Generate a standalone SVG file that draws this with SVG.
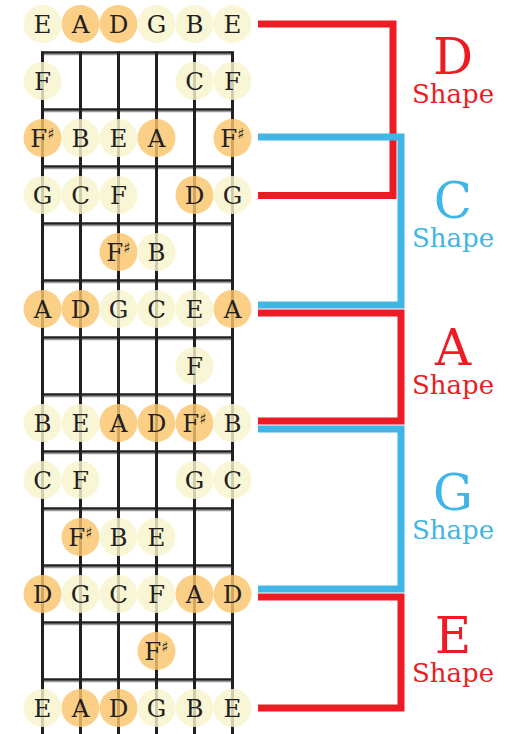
<svg xmlns="http://www.w3.org/2000/svg" width="509" height="734" viewBox="0 0 509 734">
  <style>
    .string { stroke: #231f20; stroke-width: 3; }
    .fret { stroke: #231f20; stroke-width: 2.6; }
    .fret-shade { stroke: #9a9a9a; stroke-width: 1.2; }
    .n circle { r: 19px; opacity: 0.82; }
    .lt circle { fill: #f8f4cc; }
    .or circle { fill: #fbc46c; }
    .n text { font-family: "DejaVu Serif", "Liberation Serif", serif; font-size: 24.5px; fill: #231f20; text-anchor: middle; }
    .n tspan { font-size: 15px; }
    .red { stroke: #ed1c24; stroke-width: 7; fill: none; }
    .blue { stroke: #40b5e6; stroke-width: 7; fill: none; }
    .big { font-family: "DejaVu Serif", "Liberation Serif", serif; font-size: 50px; text-anchor: middle; }
    .sub { font-family: "DejaVu Serif", "Liberation Serif", serif; font-size: 26px; text-anchor: middle; }
    .r { fill: #ed1c24; }
    .b { fill: #40b5e6; }
  </style>
  <rect width="509" height="734" fill="#ffffff"/>

  <!-- fretboard: strings and frets -->
  <g id="fretboard">
    <g id="frets">
      <line class="fret-shade" x1="42.5" x2="232.5" y1="54.6" y2="54.6"/>
      <line class="fret-shade" x1="42.5" x2="232.5" y1="111.6" y2="111.6"/>
      <line class="fret-shade" x1="42.5" x2="232.5" y1="168.6" y2="168.6"/>
      <line class="fret-shade" x1="42.5" x2="232.5" y1="225.6" y2="225.6"/>
      <line class="fret-shade" x1="42.5" x2="232.5" y1="282.6" y2="282.6"/>
      <line class="fret-shade" x1="42.5" x2="232.5" y1="339.6" y2="339.6"/>
      <line class="fret-shade" x1="42.5" x2="232.5" y1="396.6" y2="396.6"/>
      <line class="fret-shade" x1="42.5" x2="232.5" y1="453.6" y2="453.6"/>
      <line class="fret-shade" x1="42.5" x2="232.5" y1="510.6" y2="510.6"/>
      <line class="fret-shade" x1="42.5" x2="232.5" y1="567.6" y2="567.6"/>
      <line class="fret-shade" x1="42.5" x2="232.5" y1="624.6" y2="624.6"/>
      <line class="fret-shade" x1="42.5" x2="232.5" y1="681.6" y2="681.6"/>
      <line class="fret" x1="42.5" x2="232.5" y1="52.5" y2="52.5"/>
      <line class="fret" x1="42.5" x2="232.5" y1="109.5" y2="109.5"/>
      <line class="fret" x1="42.5" x2="232.5" y1="166.5" y2="166.5"/>
      <line class="fret" x1="42.5" x2="232.5" y1="223.5" y2="223.5"/>
      <line class="fret" x1="42.5" x2="232.5" y1="280.5" y2="280.5"/>
      <line class="fret" x1="42.5" x2="232.5" y1="337.5" y2="337.5"/>
      <line class="fret" x1="42.5" x2="232.5" y1="394.5" y2="394.5"/>
      <line class="fret" x1="42.5" x2="232.5" y1="451.5" y2="451.5"/>
      <line class="fret" x1="42.5" x2="232.5" y1="508.5" y2="508.5"/>
      <line class="fret" x1="42.5" x2="232.5" y1="565.5" y2="565.5"/>
      <line class="fret" x1="42.5" x2="232.5" y1="622.5" y2="622.5"/>
      <line class="fret" x1="42.5" x2="232.5" y1="679.5" y2="679.5"/>
    </g>
    <g id="strings">
      <line class="string" x1="42.5" x2="42.5" y1="51.2" y2="734"/>
      <line class="string" x1="80.5" x2="80.5" y1="51.2" y2="734"/>
      <line class="string" x1="118.5" x2="118.5" y1="51.2" y2="734"/>
      <line class="string" x1="156.5" x2="156.5" y1="51.2" y2="734"/>
      <line class="string" x1="194.5" x2="194.5" y1="51.2" y2="734"/>
      <line class="string" x1="232.5" x2="232.5" y1="51.2" y2="734"/>
    </g>
  </g>

  <!-- open strings -->
  <g id="row0">
    <g class="n lt"><circle cx="42.5" cy="24"/><text x="42.5" y="33">E</text></g>
    <g class="n or"><circle cx="80.5" cy="24"/><text x="80.5" y="33">A</text></g>
    <g class="n or"><circle cx="118.5" cy="24"/><text x="118.5" y="33">D</text></g>
    <g class="n lt"><circle cx="156.5" cy="24"/><text x="156.5" y="33">G</text></g>
    <g class="n lt"><circle cx="194.5" cy="24"/><text x="194.5" y="33">B</text></g>
    <g class="n lt"><circle cx="232.5" cy="24"/><text x="232.5" y="33">E</text></g>
  </g>
  <g id="row1">
    <g class="n lt"><circle cx="42.5" cy="81"/><text x="42.5" y="90">F</text></g>
    <g class="n lt"><circle cx="194.5" cy="81"/><text x="194.5" y="90">C</text></g>
    <g class="n lt"><circle cx="232.5" cy="81"/><text x="232.5" y="90">F</text></g>
  </g>
  <g id="row2">
    <g class="n or"><circle cx="42.5" cy="138"/><text x="42.5" y="147">F<tspan dy="-8">♯</tspan></text></g>
    <g class="n lt"><circle cx="80.5" cy="138"/><text x="80.5" y="147">B</text></g>
    <g class="n lt"><circle cx="118.5" cy="138"/><text x="118.5" y="147">E</text></g>
    <g class="n or"><circle cx="156.5" cy="138"/><text x="156.5" y="147">A</text></g>
    <g class="n or"><circle cx="232.5" cy="138"/><text x="232.5" y="147">F<tspan dy="-8">♯</tspan></text></g>
  </g>
  <g id="row3">
    <g class="n lt"><circle cx="42.5" cy="195"/><text x="42.5" y="204">G</text></g>
    <g class="n lt"><circle cx="80.5" cy="195"/><text x="80.5" y="204">C</text></g>
    <g class="n lt"><circle cx="118.5" cy="195"/><text x="118.5" y="204">F</text></g>
    <g class="n or"><circle cx="194.5" cy="195"/><text x="194.5" y="204">D</text></g>
    <g class="n lt"><circle cx="232.5" cy="195"/><text x="232.5" y="204">G</text></g>
  </g>
  <g id="row4">
    <g class="n or"><circle cx="118.5" cy="252"/><text x="118.5" y="261">F<tspan dy="-8">♯</tspan></text></g>
    <g class="n lt"><circle cx="156.5" cy="252"/><text x="156.5" y="261">B</text></g>
  </g>
  <g id="row5">
    <g class="n or"><circle cx="42.5" cy="309"/><text x="42.5" y="318">A</text></g>
    <g class="n or"><circle cx="80.5" cy="309"/><text x="80.5" y="318">D</text></g>
    <g class="n lt"><circle cx="118.5" cy="309"/><text x="118.5" y="318">G</text></g>
    <g class="n lt"><circle cx="156.5" cy="309"/><text x="156.5" y="318">C</text></g>
    <g class="n lt"><circle cx="194.5" cy="309"/><text x="194.5" y="318">E</text></g>
    <g class="n or"><circle cx="232.5" cy="309"/><text x="232.5" y="318">A</text></g>
  </g>
  <g id="row6">
    <g class="n lt"><circle cx="194.5" cy="366"/><text x="194.5" y="375">F</text></g>
  </g>
  <g id="row7">
    <g class="n lt"><circle cx="42.5" cy="423"/><text x="42.5" y="432">B</text></g>
    <g class="n lt"><circle cx="80.5" cy="423"/><text x="80.5" y="432">E</text></g>
    <g class="n or"><circle cx="118.5" cy="423"/><text x="118.5" y="432">A</text></g>
    <g class="n or"><circle cx="156.5" cy="423"/><text x="156.5" y="432">D</text></g>
    <g class="n or"><circle cx="194.5" cy="423"/><text x="194.5" y="432">F<tspan dy="-8">♯</tspan></text></g>
    <g class="n lt"><circle cx="232.5" cy="423"/><text x="232.5" y="432">B</text></g>
  </g>
  <g id="row8">
    <g class="n lt"><circle cx="42.5" cy="480"/><text x="42.5" y="489">C</text></g>
    <g class="n lt"><circle cx="80.5" cy="480"/><text x="80.5" y="489">F</text></g>
    <g class="n lt"><circle cx="194.5" cy="480"/><text x="194.5" y="489">G</text></g>
    <g class="n lt"><circle cx="232.5" cy="480"/><text x="232.5" y="489">C</text></g>
  </g>
  <g id="row9">
    <g class="n or"><circle cx="80.5" cy="537"/><text x="80.5" y="546">F<tspan dy="-8">♯</tspan></text></g>
    <g class="n lt"><circle cx="118.5" cy="537"/><text x="118.5" y="546">B</text></g>
    <g class="n lt"><circle cx="156.5" cy="537"/><text x="156.5" y="546">E</text></g>
  </g>
  <g id="row10">
    <g class="n or"><circle cx="42.5" cy="594"/><text x="42.5" y="603">D</text></g>
    <g class="n lt"><circle cx="80.5" cy="594"/><text x="80.5" y="603">G</text></g>
    <g class="n lt"><circle cx="118.5" cy="594"/><text x="118.5" y="603">C</text></g>
    <g class="n lt"><circle cx="156.5" cy="594"/><text x="156.5" y="603">F</text></g>
    <g class="n or"><circle cx="194.5" cy="594"/><text x="194.5" y="603">A</text></g>
    <g class="n or"><circle cx="232.5" cy="594"/><text x="232.5" y="603">D</text></g>
  </g>
  <g id="row11">
    <g class="n or"><circle cx="156.5" cy="651"/><text x="156.5" y="660">F<tspan dy="-8">♯</tspan></text></g>
  </g>
  <g id="row12">
    <g class="n lt"><circle cx="42.5" cy="708"/><text x="42.5" y="717">E</text></g>
    <g class="n or"><circle cx="80.5" cy="708"/><text x="80.5" y="717">A</text></g>
    <g class="n or"><circle cx="118.5" cy="708"/><text x="118.5" y="717">D</text></g>
    <g class="n lt"><circle cx="156.5" cy="708"/><text x="156.5" y="717">G</text></g>
    <g class="n lt"><circle cx="194.5" cy="708"/><text x="194.5" y="717">B</text></g>
    <g class="n lt"><circle cx="232.5" cy="708"/><text x="232.5" y="717">E</text></g>
  </g>

  <!-- shape brackets -->
  <g id="connectors">
    <polyline class="red" points="258,24 393,24 393,195.5 258,195.5"/>
    <polyline class="blue" points="258,137 401,137 401,305 258,305"/>
    <polyline class="red" points="258,313 401,313 401,421 258,421"/>
    <polyline class="blue" points="258,429 401,429 401,589 258,589"/>
    <polyline class="red" points="258,597 401,597 401,708 258,708"/>
  </g>

  <!-- shape labels -->
  <g id="label-d"><text class="big r" x="453" y="74">D</text><text class="sub r" x="453" y="103">Shape</text></g>
  <g id="label-c"><text class="big b" x="453" y="218">C</text><text class="sub b" x="453" y="247">Shape</text></g>
  <g id="label-a"><text class="big r" x="453" y="365">A</text><text class="sub r" x="453" y="394">Shape</text></g>
  <g id="label-g"><text class="big b" x="453" y="510">G</text><text class="sub b" x="453" y="539">Shape</text></g>
  <g id="label-e"><text class="big r" x="453" y="653">E</text><text class="sub r" x="453" y="682">Shape</text></g>
</svg>
